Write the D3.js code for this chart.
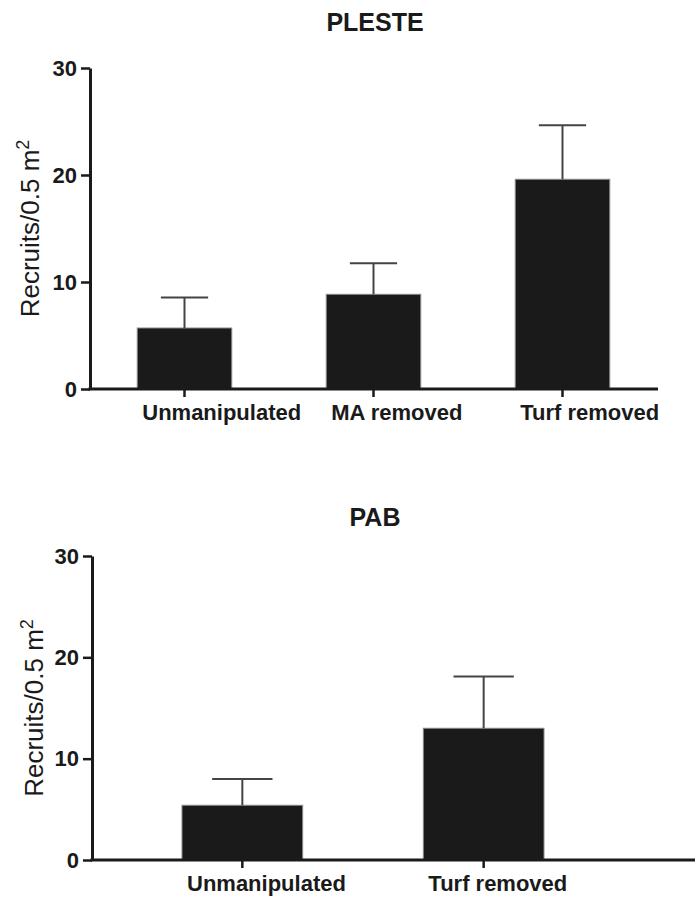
<!DOCTYPE html>
<html>
<head>
<meta charset="utf-8">
<script src="https://cdn.jsdelivr.net/npm/d3@7"></script>
<style>
  body { margin: 0; background: #fff; }
  text { font-family: "Liberation Sans", Arial, sans-serif; fill: #1a1a1a; }
</style>
</head>
<body>
<div id="chart"></div>
<script>
// data
var plesteCats = ["Unmanipulated", "MA removed", "Turf removed"];
var plesteMeans = [5.7, 8.85, 19.6];
var plesteSem = [2.85, 2.9, 5.05];

var pabCats = ["Unmanipulated", "Turf removed"];
var pabMeans = [5.4, 13.0];
var pabSem = [2.6, 5.1];

var yTicks = [0, 10, 20, 30];

var svg = d3.select("#chart")
  .append("svg")
    .attr("width", 695)
    .attr("height", 898);

function panel(p) {
  var g = svg.append("g");

  var x = d3.scaleBand()
    .domain(p.cats)
    .range(p.xRange)
    .paddingInner(0.5)
    .paddingOuter(p.outer);

  var y = d3.scaleLinear()
    .domain([0, 30])
    .range(p.yRange);

  // title
  g.append("text")
    .attr("x", 375)
    .attr("y", p.titleY)
    .attr("text-anchor", "middle")
    .style("font-size", "25px")
    .style("font-weight", "bold")
    .text(p.title);

  // bars
  g.selectAll(".bar")
    .data(p.means)
    .enter()
    .append("rect")
      .attr("x", function (d, i) { return x(p.cats[i]); })
      .attr("y", function (d) { return y(d); })
      .attr("width", x.bandwidth())
      .attr("height", function (d) { return y(0) - y(d); })
      .style("fill", "#1a1a1a")
      .style("stroke", "#888")
      .style("stroke-width", "1px");

  // error bars (upper only)
  var capW = x.bandwidth() * p.cap;
  p.means.forEach(function (m, i) {
    var cx = x(p.cats[i]) + x.bandwidth() / 2;
    g.append("line")
      .attr("x1", cx).attr("x2", cx)
      .attr("y1", y(m)).attr("y2", y(m + p.sem[i]))
      .style("stroke", "#444").style("stroke-width", "2px");
    g.append("line")
      .attr("x1", cx - capW / 2).attr("x2", cx + capW / 2)
      .attr("y1", y(m + p.sem[i])).attr("y2", y(m + p.sem[i]))
      .style("stroke", "#444").style("stroke-width", "2px");
  });

  // y axis
  var yAxis = g.append("g")
    .attr("transform", "translate(" + p.xRange[0] + ",0)")
    .call(d3.axisLeft(y).tickValues(yTicks).tickSize(9).tickPadding(4).tickSizeOuter(0));
  yAxis.select(".domain").style("stroke", "#1a1a1a").style("stroke-width", "3px");
  yAxis.selectAll(".tick line").style("stroke", "#1a1a1a").style("stroke-width", "2.5px");
  yAxis.selectAll(".tick text")
    .style("font-family", "'Liberation Sans', Arial, sans-serif")
    .style("font-size", "22px")
    .style("font-weight", "bold")
    .style("fill", "#1a1a1a");

  // x axis line + tick marks
  g.append("line")
    .attr("x1", p.xRange[0] - 1.5).attr("x2", p.axisEnd)
    .attr("y1", y(0)).attr("y2", y(0))
    .style("stroke", "#1a1a1a").style("stroke-width", "3px");
  g.selectAll(".xt")
    .data(p.cats)
    .enter()
    .append("line")
      .attr("x1", function (d) { return x(d) + x.bandwidth() / 2; })
      .attr("x2", function (d) { return x(d) + x.bandwidth() / 2; })
      .attr("y1", y(0))
      .attr("y2", y(0) + 8)
      .style("stroke", "#1a1a1a").style("stroke-width", "2.5px");

  // category labels start near bar's left edge
  g.selectAll(".xl")
    .data(p.cats)
    .enter()
    .append("text")
      .attr("x", function (d) { return x(d) + 5; })
      .attr("y", y(0) + 31)
      .style("font-size", "22px")
      .style("font-weight", "bold")
      .text(function (d) { return d; });

  // y axis label
  var yl = g.append("text")
    .attr("transform", "translate(" + p.ylabX + "," + ((p.yRange[0] + p.yRange[1]) / 2) + ") rotate(-90)")
    .attr("text-anchor", "middle")
    .style("font-size", "26px");
  yl.append("tspan").text("Recruits/0.5 m");
  yl.append("tspan").attr("dy", "-0.55em").style("font-size", "18px").text("2");
}

panel({
  title: "PLESTE", titleY: 31,
  cats: plesteCats, means: plesteMeans, sem: plesteSem,
  xRange: [90, 657], outer: 0.25, axisEnd: 658,
  yRange: [389, 68], cap: 0.5, ylabX: 39
});

panel({
  title: "PAB", titleY: 526,
  cats: pabCats, means: pabMeans, sem: pabSem,
  xRange: [92, 634], outer: 0.373, axisEnd: 695,
  yRange: [860, 556], cap: 0.5, ylabX: 43
});
</script>
</body>
</html>
